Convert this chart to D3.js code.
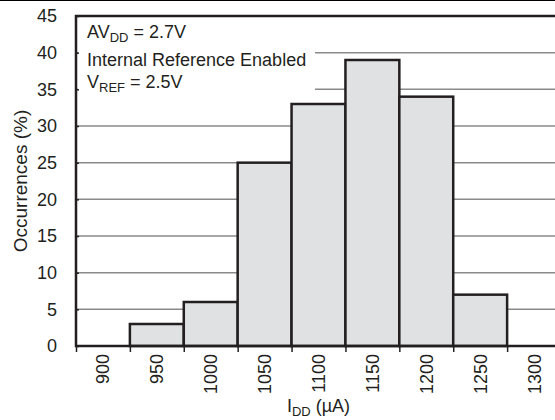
<!DOCTYPE html>
<html>
<head>
<meta charset="utf-8">
<script src="https://cdn.jsdelivr.net/npm/d3@7"></script>
<style>
  body { margin: 0; background: #fff; }
  svg { display: block; font-family: "Liberation Sans", Arial, Helvetica, sans-serif; }
</style>
</head>
<body>
<div id="hist"></div>
<script>
// Histogram data
const bins = [900, 950, 1000, 1050, 1100, 1150, 1200, 1250, 1300];
const occurrences = [0, 3, 6, 25, 33, 39, 34, 7, 0];
const yTicks = [0, 5, 10, 15, 20, 25, 30, 35, 40, 45];

// Chart dimensions
const W = 555, H = 420;
const margin = {top: 16, right: -6, bottom: 74, left: 76};
const width = W - margin.left - margin.right;
const height = H - margin.top - margin.bottom;

const svg = d3.select("#hist")
    .append("svg")
    .attr("width", W)
    .attr("height", H);

// thin rule at the very top
svg.append("line")
    .attr("x1", 0).attr("x2", W)
    .attr("y1", 0.5).attr("y2", 0.5)
    .style("stroke", "#000").style("stroke-width", 1);

const g = svg.append("g")
    .attr("transform", "translate(" + margin.left + "," + margin.top + ")");

// Scales: bins are 50 wide, labelled at their centre
const x = d3.scaleLinear()
    .domain([bins[0] - 25, bins[bins.length - 1] + 25])
    .range([0, width]);

const y = d3.scaleLinear()
    .domain([0, 45])
    .range([height, 0]);

// Grid lines
g.selectAll(".grid")
    .data(yTicks.filter(d => d > 0 && d < 45))
    .enter().append("line")
    .attr("class", "grid")
    .attr("x1", 0).attr("x2", width)
    .attr("y1", d => y(d)).attr("y2", d => y(d))
    .style("stroke", "#8a8a8a")
    .style("stroke-width", 1.5);

// Bars
g.selectAll(".bar")
    .data(bins.map((b, i) => ({bin: b, v: occurrences[i]})).filter(d => d.v > 0))
    .enter().append("rect")
    .attr("class", "bar")
    .attr("x", d => x(d.bin - 25))
    .attr("width", d => x(d.bin + 25) - x(d.bin - 25))
    .attr("y", d => y(d.v))
    .attr("height", d => y(0) - y(d.v))
    .style("fill", "#e0e1e3")
    .style("stroke", "#231f20")
    .style("stroke-width", 2.5);

// Note box covering the grid
g.append("rect")
    .attr("x", 2).attr("y", 2)
    .attr("width", 237).attr("height", 78)
    .style("fill", "#fff");

const note = g.append("g")
    .style("font-size", "18px")
    .style("fill", "#231f20");

const l1 = note.append("text").attr("x", 11).attr("y", 22);
l1.append("tspan").text("AV");
l1.append("tspan").attr("dy", 4).style("font-size", "13px").text("DD");
l1.append("tspan").attr("dy", -4).text(" = 2.7V");

note.append("text").attr("x", 11).attr("y", 50).text("Internal Reference Enabled");

const l3 = note.append("text").attr("x", 11).attr("y", 72);
l3.append("tspan").text("V");
l3.append("tspan").attr("dy", 4).style("font-size", "13px").text("REF");
l3.append("tspan").attr("dy", -4).text(" = 2.5V");

// Y axis with short inward ticks
const yAxis = d3.axisLeft(y).tickValues(yTicks).tickSize(-3).tickPadding(19);
g.append("g")
    .attr("class", "y axis")
    .call(yAxis)
    .call(a => a.select(".domain").remove())
    .call(a => a.selectAll("line").style("stroke", "#231f20").style("stroke-width", 1.5))
    .call(a => a.selectAll("text")
        .style("font-size", "18px")
        .style("font-family", "inherit")
        .style("fill", "#231f20"));

// X axis: ticks on bin edges, labels at bin centres
const edges = bins.map(b => b - 25);
g.append("g")
    .attr("transform", "translate(0," + height + ")")
    .call(d3.axisBottom(x).tickValues(edges).tickSize(6).tickFormat(""))
    .call(a => a.select(".domain").remove())
    .call(a => a.selectAll("line").style("stroke", "#231f20").style("stroke-width", 1.5));

g.selectAll(".xlabel")
    .data(bins)
    .enter().append("text")
    .attr("class", "xlabel")
    .attr("transform", d => "translate(" + (x(d) + 6.5) + "," + (height + 8) + ") rotate(-90)")
    .attr("text-anchor", "end")
    .style("font-size", "18px")
    .style("fill", "#231f20")
    .text(d => d);

// Frame
g.append("rect")
    .attr("x", 0).attr("y", 0)
    .attr("width", width).attr("height", height)
    .style("fill", "none")
    .style("stroke", "#231f20")
    .style("stroke-width", 2.5);

// Axis titles
const xt = g.append("text")
    .attr("x", width / 2)
    .attr("y", height + 66)
    .attr("text-anchor", "middle")
    .style("font-size", "18px")
    .style("fill", "#231f20");
xt.append("tspan").text("I");
xt.append("tspan").attr("dy", 4).style("font-size", "13px").text("DD");
xt.append("tspan").attr("dy", -4).text(" (\u00b5A)");

g.append("text")
    .attr("transform", "translate(" + (-49) + "," + (height / 2) + ") rotate(-90)")
    .attr("text-anchor", "middle")
    .style("font-size", "19px")
    .style("fill", "#231f20")
    .text("Occurrences (%)");
</script>
</body>
</html>
